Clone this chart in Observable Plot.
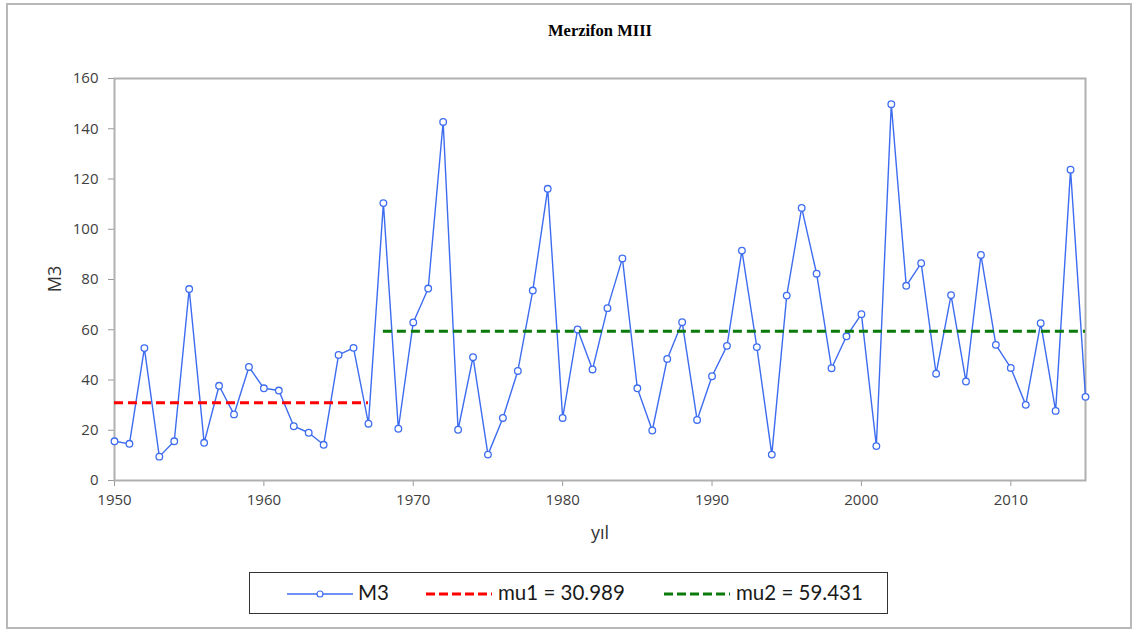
<!DOCTYPE html>
<html><head><meta charset="utf-8">
<script src="https://cdn.jsdelivr.net/npm/d3@7"></script>
<script src="https://cdn.jsdelivr.net/npm/@observablehq/plot@0.6"></script>
<style>
body{margin:0;background:#fff;}
#page{position:relative;width:1134px;height:630px;overflow:hidden;font-family:"Open Sans",sans-serif;background:#fff;}
#frame{position:absolute;left:6px;top:3px;width:1122px;height:622px;border:2px solid #b8b8b8;}
#title{position:absolute;left:400px;width:400px;top:21px;text-align:center;font-family:"Liberation Serif",serif;font-weight:bold;font-size:16.5px;line-height:20px;color:#000;}
#chart{position:absolute;left:0;top:60px;}
#ylab{position:absolute;left:54px;top:279px;transform:translate(-50%,-50%) rotate(-90deg);font-size:18px;color:#333;white-space:nowrap;}
#xlab{position:absolute;left:600px;top:532px;transform:translate(-50%,-50%);font-size:18px;color:#333;white-space:nowrap;}
#legend{position:absolute;left:249px;top:572px;width:637px;height:40px;border:1.5px solid #333;font-family:Lato,sans-serif;font-size:20.5px;color:#1a1a1a;}
#legend .sw{position:absolute;top:11px;}
#legend .tx{position:absolute;top:7px;line-height:24px;white-space:nowrap;}
</style>
</head><body>
<div id="page">
  <div id="frame"></div>
  <div id="title">Merzifon MIII</div>
  <div id="chart"></div>
  <div id="ylab">M3</div>
  <div id="xlab">yıl</div>
  <div id="legend"></div>
</div>
<script>
const years = [1950,1951,1952,1953,1954,1955,1956,1957,1958,1959,
1960,1961,1962,1963,1964,1965,1966,1967,1968,1969,
1970,1971,1972,1973,1974,1975,1976,1977,1978,1979,
1980,1981,1982,1983,1984,1985,1986,1987,1988,1989,
1990,1991,1992,1993,1994,1995,1996,1997,1998,1999,
2000,2001,2002,2003,2004,2005,2006,2007,2008,2009,
2010,2011,2012,2013,2014,2015];
const m3 = [15.6,14.6,52.7,9.5,15.6,76.2,15.0,37.7,26.3,45.2,
36.7,35.8,21.6,19.0,14.2,50.0,52.8,22.6,110.4,20.6,
62.9,76.4,142.7,20.2,49.1,10.3,24.9,43.6,75.6,116.1,
24.9,60.1,44.2,68.6,88.4,36.7,19.9,48.4,63.0,24.1,
41.5,53.6,91.5,53.1,10.3,73.6,108.5,82.3,44.7,57.4,
66.2,13.7,149.8,77.5,86.5,42.5,73.8,39.4,89.8,54.0,
44.8,30.1,62.6,27.7,123.7,33.3];
const muNames = ["mu1 = 30.989","mu2 = 59.431"];
const muValues = [30.989, 59.431];
const muStart = [1950, 1968];
const muEnd = [1967, 2015];
const muColors = ["#ff0000","#0a7a0a"];
const xTicks = [1950,1960,1970,1980,1990,2000,2010];
const yTicks = [0,20,40,60,80,100,120,140,160];
const seriesName = "M3";
const blue = "#3d6cf0";

const data = years.map((y,i)=>({year:y, v:m3[i]}));
const mus = muValues.map((m,i)=>({name:muNames[i], mu:m, start:muStart[i], end:muEnd[i], color:muColors[i]}));

const chart = Plot.plot({
  width:1134, height:500,
  marginTop:18, marginBottom:80, marginLeft:114, marginRight:49,
  style:{fontFamily:"Open Sans", fontSize:"15px", color:"#404040", background:"transparent"},
  x:{domain:[1950,2015]},
  y:{domain:[0,160]},
  marks:[
    Plot.axisX({ticks:xTicks, tickFormat:d=>String(d), tickSize:6, tickPadding:8, stroke:"#9a9a9a", label:null}),
    Plot.axisY({ticks:yTicks, tickSize:6, tickPadding:10, stroke:"#9a9a9a", label:null}),
    Plot.frame({stroke:"#b0b0b0", strokeWidth:2}),
    Plot.line(data,{x:"year", y:"v", stroke:blue, strokeWidth:1.4}),
    Plot.dot(data,{x:"year", y:"v", r:3.3, stroke:blue, fill:"white", strokeWidth:1.3}),
    Plot.ruleY(mus,{y:"mu", x1:"start", x2:"end", stroke:d=>d.color, strokeWidth:3, strokeDasharray:"9,5"})
  ]
});
document.getElementById("chart").appendChild(chart);

// legend
const lg = document.getElementById("legend");
const items = [
  {label:seriesName, color:blue, dash:null, marker:true, sx:37, tx:108},
  {label:muNames[0], color:muColors[0], dash:"9,4", marker:false, sx:176, tx:248},
  {label:muNames[1], color:muColors[1], dash:"9,4", marker:false, sx:414, tx:486}
];
items.forEach(it=>{
  const ns="http://www.w3.org/2000/svg";
  const s=document.createElementNS(ns,"svg");
  s.setAttribute("width",68); s.setAttribute("height",20);
  s.setAttribute("class","sw"); s.style.left=it.sx+"px";
  const l=document.createElementNS(ns,"line");
  l.setAttribute("x1",0);l.setAttribute("x2",66);l.setAttribute("y1",10);l.setAttribute("y2",10);
  l.setAttribute("stroke",it.color);
  l.setAttribute("stroke-width",it.marker?1.3:3);
  if(it.dash) l.setAttribute("stroke-dasharray",it.dash);
  s.appendChild(l);
  if(it.marker){
    const c=document.createElementNS(ns,"circle");
    c.setAttribute("cx",33);c.setAttribute("cy",10);c.setAttribute("r",3);
    c.setAttribute("fill","white");c.setAttribute("stroke",it.color);c.setAttribute("stroke-width",1.2);
    s.appendChild(c);
  }
  lg.appendChild(s);
  const t=document.createElement("div");
  t.className="tx"; t.style.left=it.tx+"px"; t.textContent=it.label;
  lg.appendChild(t);
});
</script>
</body></html>
